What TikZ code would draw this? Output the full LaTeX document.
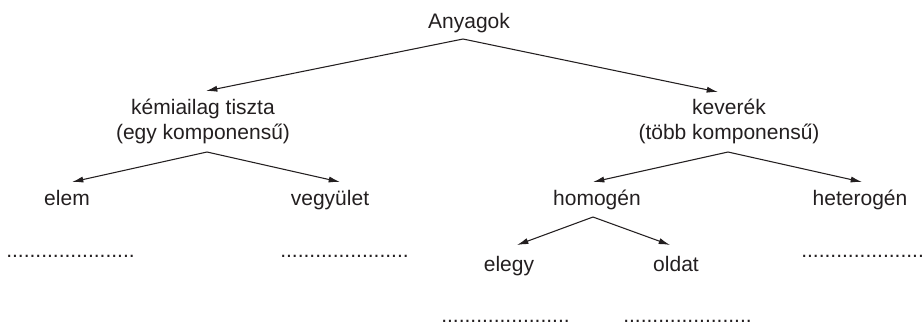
\documentclass[tikz,border=0pt]{standalone}
\usepackage{fontspec}
\setmainfont{Liberation Sans}
\usetikzlibrary{arrows.meta,calc}
\definecolor{ink}{HTML}{231F20}
\tikzset{
  lbl/.style={anchor=base, inner sep=0pt, text=ink, font=\fontsize{15.75}{18}\selectfont},
  gap/.style={anchor=base west, inner sep=0pt, text=ink, font=\fontsize{15.75}{18}\selectfont},
  arr/.style={draw=ink, line width=0.8pt, -{Latex[length=8.5pt,width=4.6pt]}}
}
\begin{document}
\begin{tikzpicture}[x=0.75pt,y=-0.75pt]
  \useasboundingbox (0,0) rectangle (923,326);
  % texts
  \node[lbl] (top)    at (469,28.5)  {Anyagok};
  \node[lbl] (pure)   at (203,114.5) {kémiailag tiszta};
  \node[lbl] (pure2)  at (203,139.5) {(egy komponensű)};
  \node[lbl] (mix)    at (729,114.5) {keverék};
  \node[lbl] (mix2)   at (729,139.5) {(több komponensű)};
  \node[lbl] (elem)   at (67,205)    {elem};
  \node[lbl] (vegy)   at (330,205)   {vegyület};
  \node[lbl] (homog)  at (597,205)   {homogén};
  \node[lbl] (hetero) at (860,205)   {heterogén};
  \node[lbl] (elegy)  at (509,271)   {elegy};
  \node[lbl] (oldat)  at (676,271)   {oldat};
  % blanks to fill in
  \node[gap] (b1) at (6,257)   {......................};
  \node[gap] (b2) at (280,257) {......................};
  \node[gap] (b3) at (801,257) {.....................};
  \node[gap] (b4) at (441,322.5) {......................};
  \node[gap] (b5) at (623,322.5) {......................};
  % arrows
  \draw[arr] ($(top.base)+(-6,10.5)$) -- ($(pure.base)+(3,-23.5)$);
  \draw[arr] ($(top.base)+(-6,10.5)$) -- ($(mix.base)+(-11,-22.5)$);
  \draw[arr] ($(pure2.base)+(4,12.5)$) -- ($(elem.base)+(5,-23)$);
  \draw[arr] ($(pure2.base)+(4,12.5)$) -- ($(vegy.base)+(10,-23)$);
  \draw[arr] ($(mix2.base)+(-1,12.5)$) -- ($(homog.base)+(-4,-23)$);
  \draw[arr] ($(mix2.base)+(-1,12.5)$) -- ($(hetero.base)+(2,-23)$);
  \draw[arr] ($(homog.base)+(-4,12)$) -- ($(elegy.base)+(8,-26)$);
  \draw[arr] ($(homog.base)+(-4,12)$) -- ($(oldat.base)+(-6,-26)$);
\end{tikzpicture}
\end{document}
